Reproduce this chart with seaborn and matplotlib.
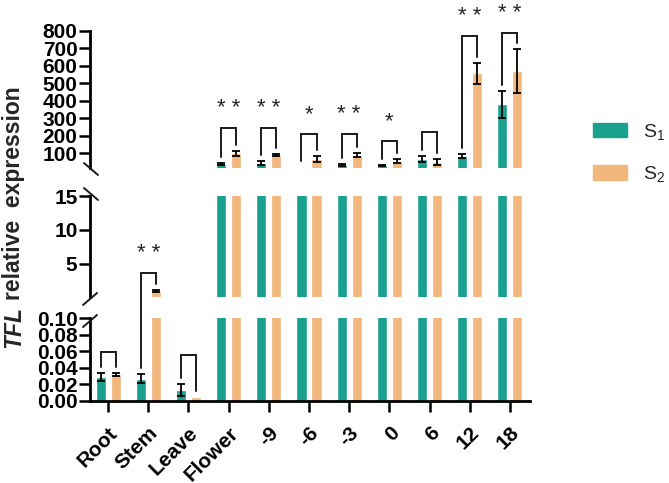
import numpy as np
import pandas as pd
import seaborn as sns
import matplotlib.pyplot as plt
from matplotlib.lines import Line2D
from matplotlib.patches import Patch

categories = ["Root", "Stem", "Leave", "Flower", "-9", "-6", "-3", "0", "6", "12", "18"]
s1 = [0.029, 0.027, 0.013, 38, 45, 18, 31, 30, 67, 84, 379]
s1_err = [0.005, 0.005, 0.007, 5, 12, 0, 5, 4, 15, 13, 77]
s2 = [0.032, 1.0, 0.005, 100, 90, 67, 90, 55, 50, 557, 569]
s2_err = [0.002, 0.1, 0, 14, 5, 17, 12, 10, 18, 58, 127]
stars = ["", "**", "", "**", "**", "*", "**", "*", "", "**", "**"]
bracket_top = [0.059, 3.6, 0.055, 246, 246, 211, 211, 171, 223, 771, 788]

teal = "#1aa08f"
orange = "#f1b77d"

df = pd.DataFrame({
    "cat": categories * 2,
    "val": s1 + s2,
    "grp": ["S1"] * len(categories) + ["S2"] * len(categories),
})

sns.set_style("white")
plt.rcParams["font.family"] = ["Liberation Sans", "DejaVu Sans"]
plt.rcParams["mathtext.fontset"] = "custom"
plt.rcParams["mathtext.rm"] = "Liberation Sans"
plt.rcParams["mathtext.it"] = "Liberation Sans:italic"

W, H = 669, 483
fig = plt.figure(figsize=(W / 100, H / 100), dpi=100)


def fx(px):
    return px / W


def fy(px):
    return 1 - px / H


x0, x1 = 90, 530
ax_top = fig.add_axes([fx(x0), fy(168), fx(x1 - x0), (168 - 31) / H])
ax_mid = fig.add_axes([fx(x0), fy(297), fx(x1 - x0), (297 - 196) / H])
ax_bot = fig.add_axes([fx(x0), fy(401), fx(x1 - x0), (401 - 318) / H])
segments = [(ax_bot, 0, 0.1), (ax_mid, 0.1, 15), (ax_top, 15, 800)]


def seg_ax(v):
    if v <= 0.1:
        return ax_bot
    if v <= 15:
        return ax_mid
    return ax_top


centers = {}
for ax, lo, hi in segments:
    sns.barplot(data=df, x="cat", y="val", hue="grp", palette=[teal, orange],
                width=0.75, gap=0.33, saturation=1, errorbar=None,
                legend=False, ax=ax)
    for j, (vals, errs) in enumerate([(s1, s1_err), (s2, s2_err)]):
        xs = [b.get_x() + b.get_width() / 2 for b in ax.containers[j]]
        centers[j] = xs
        keep = [i for i in range(len(vals)) if errs[i] > 0 and seg_ax(vals[i]) is ax]
        ax.errorbar([xs[i] for i in keep], [vals[i] for i in keep],
                    yerr=[errs[i] for i in keep], fmt="none", ecolor="black",
                    elinewidth=1.3, capsize=3, capthick=1.3)
    ax.set_ylim(lo, hi)
    ax.set_xlim(-0.45, 10.5)
    ax.set_xlabel("")
    ax.set_ylabel("")
    for s in ["top", "right"]:
        ax.spines[s].set_visible(False)
    ax.spines["left"].set_linewidth(2)
    ax.spines["left"].set_color("black")
    ax.tick_params(axis="y", direction="out", length=8, width=1.8, pad=1,
                   labelsize=15, left=True, colors="black")

ax_top.set_yticks(range(100, 801, 100))
ax_mid.set_yticks([5, 10, 15])
ax_bot.set_yticks(np.arange(0, 0.101, 0.02))
ax_bot.set_yticklabels([f"{v:.2f}" for v in np.arange(0, 0.101, 0.02)])
for ax in (ax_top, ax_mid):
    ax.spines["bottom"].set_visible(False)
    ax.set_xticks([])
ax_bot.spines["bottom"].set_linewidth(2)
ax_bot.spines["bottom"].set_color("black")
ax_bot.set_xticks(range(len(categories)))
ax_bot.set_xticklabels(categories, rotation=45, ha="right", va="top",
                       rotation_mode="anchor", fontsize=15, fontweight="bold")
ax_bot.tick_params(axis="x", direction="out", length=8, width=1.8, pad=8,
                   bottom=True, colors="black")
for ax in (ax_top, ax_mid, ax_bot):
    for lab in ax.get_yticklabels():
        lab.set_fontweight("bold")


# brackets and significance marks drawn in pixel space across the broken axis
def disp(x, v):
    return seg_ax(v).transData.transform((x, v))


def add_line(pts):
    xs = [p[0] / W for p in pts]
    ys = [p[1] / H for p in pts]
    fig.add_artist(Line2D(xs, ys, transform=fig.transFigure, color="#1a1a1a",
                          lw=1.4, solid_joinstyle="miter"))


for i in range(len(categories)):
    xa, xb = centers[0][i], centers[1][i]
    a = disp(xa, s1[i] + s1_err[i])
    b = disp(xb, s2[i] + s2_err[i])
    t = disp(xa, bracket_top[i])
    a[1] += 6
    b[1] += 6
    add_line([(a[0], a[1]), (a[0], t[1]), (b[0], t[1]), (b[0], b[1])])
    if stars[i]:
        fig.text((a[0] + b[0]) / 2 / W, (t[1] + 14) / H, " ".join(stars[i]),
                 ha="center", va="baseline", fontsize=16)


# break marks on the y axis
def slash(cx, cy, down):
    dy = 6 if down else -6
    add_line([(cx - 7, H - (cy - dy)), (cx + 7, H - (cy + dy))])


slash(91, 169, True)
slash(91, 194, True)
slash(90, 299, False)
slash(90, 321, False)

# y label with italic gene name
t1 = fig.text(0.02, fy(348), "TFL", rotation=90, ha="center", va="bottom",
              fontsize=16.5, fontweight="bold", fontstyle="italic")
fig.canvas.draw()
bb = t1.get_window_extent()
fig.text(0.02, (bb.y1 + 6) / H, "relative  expression", rotation=90,
         ha="center", va="bottom", fontsize=16.5, fontweight="bold")

handles = [Patch(color=teal), Patch(color=orange)]
fig.legend(handles, ["S$_1$", "S$_2$"], loc="upper left",
           bbox_to_anchor=(fx(593), fy(122)), frameon=False, fontsize=14,
           handlelength=1.75, handleheight=0.75, handletextpad=0.8,
           labelspacing=1.15, borderpad=0, borderaxespad=0)

fig.savefig("out.png", dpi=100)
